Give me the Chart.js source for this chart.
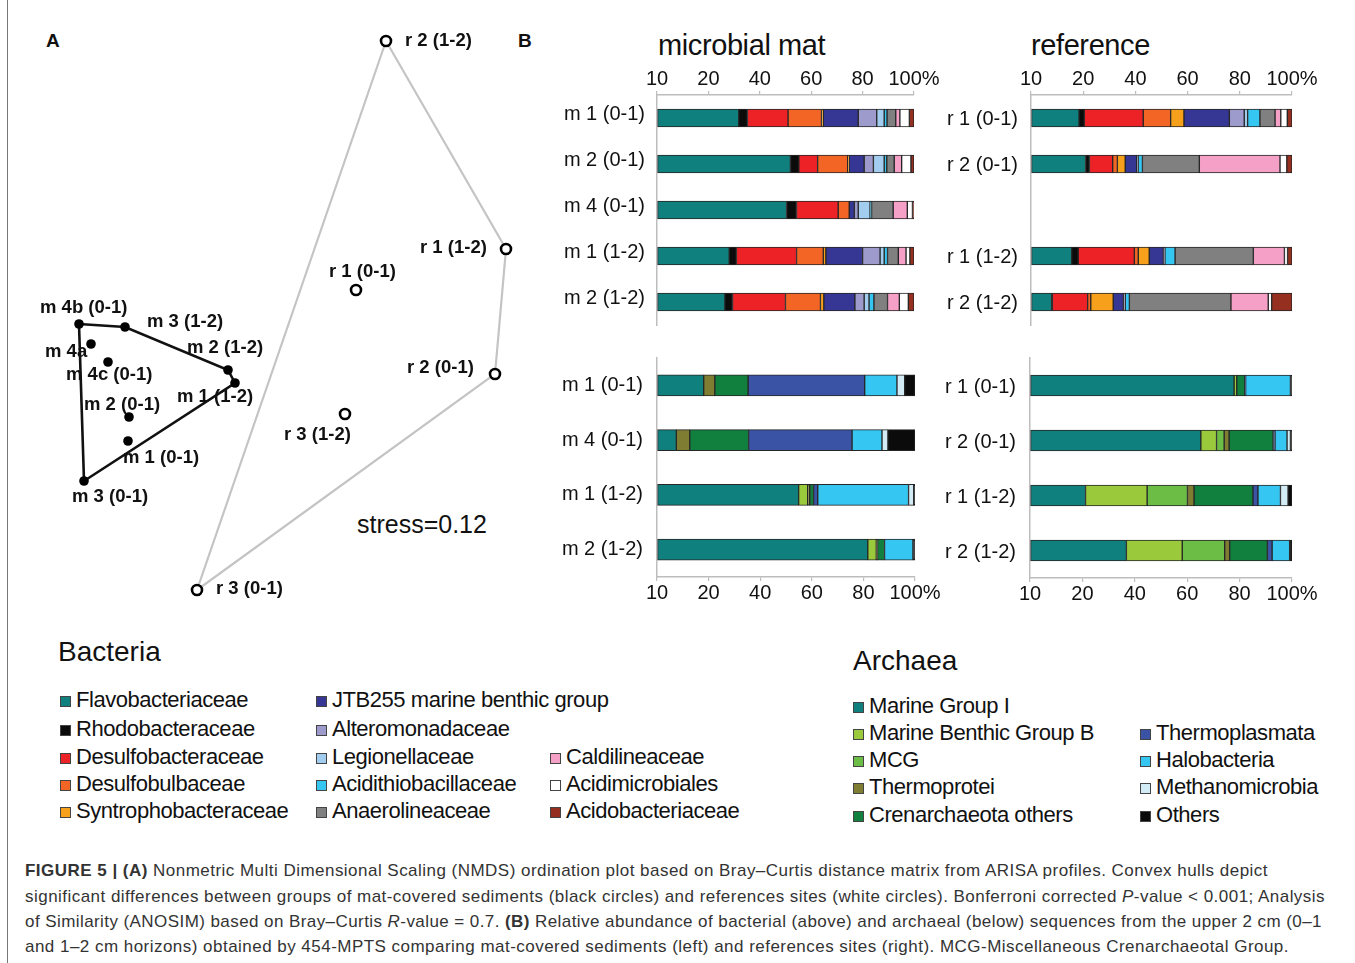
<!DOCTYPE html>
<html><head><meta charset="utf-8">
<script src="https://cdn.jsdelivr.net/npm/chart.js@4.4.1/dist/chart.umd.min.js"></script>
<style>
html,body{margin:0;padding:0;background:#fff;}
body{width:1355px;height:963px;position:relative;overflow:hidden;font-family:"Liberation Sans",Arial,sans-serif;color:#111;}
.abs{position:absolute;white-space:nowrap;line-height:1;}
canvas{position:absolute;}
.lg{position:absolute;white-space:nowrap;font-size:22px;letter-spacing:-0.45px;line-height:24px;height:24px;}
.lg i{display:inline-block;width:9px;height:9px;border:1px solid #444;margin-right:5px;vertical-align:0px;}
.cap{position:absolute;left:25px;white-space:nowrap;font-size:17px;color:#333;line-height:20px;}
</style></head>
<body>
<div class="abs" style="left:7px;top:0;width:1px;height:963px;background:#777"></div>
<div class="abs" style="left:46px;top:31px;font-size:19px;font-weight:bold">A</div>
<div class="abs" style="left:518px;top:31px;font-size:19px;font-weight:bold">B</div>
<div class="abs" style="left:357px;top:512px;font-size:25px">stress=0.12</div>
<div class="abs" style="left:658px;top:31px;font-size:29px;letter-spacing:-0.4px">microbial mat</div>
<div class="abs" style="left:1031px;top:31px;font-size:29px;letter-spacing:-0.4px">reference</div>
<div class="abs" style="left:58px;top:638px;font-size:28px">Bacteria</div>
<div class="abs" style="left:853px;top:647px;font-size:28px">Archaea</div>

<canvas id="nmds" width="500" height="600" style="left:30px;top:20px"></canvas>
<canvas id="bacMat" width="420" height="280" style="left:540px;top:55px"></canvas>
<canvas id="bacRef" width="401" height="280" style="left:931px;top:55px"></canvas>
<canvas id="arcMat" width="420" height="267" style="left:540px;top:350px"></canvas>
<canvas id="arcRef" width="401" height="268" style="left:931px;top:350px"></canvas>

<div id="legends"></div>

<div class="cap" id="c1" style="top:861px"><b>FIGURE 5 | (A)</b> Nonmetric Multi Dimensional Scaling (NMDS) ordination plot based on Bray–Curtis distance matrix from ARISA profiles. Convex hulls depict</div>
<div class="cap" id="c2" style="top:887px">significant differences between groups of mat-covered sediments (black circles) and references sites (white circles). Bonferroni corrected <i>P</i>-value &lt; 0.001; Analysis</div>
<div class="cap" id="c3" style="top:912px">of Similarity (ANOSIM) based on Bray–Curtis <i>R</i>-value = 0.7. <b>(B)</b> Relative abundance of bacterial (above) and archaeal (below) sequences from the upper 2 cm (0–1</div>
<div class="cap" id="c4" style="top:937px">and 1–2 cm horizons) obtained by 454-MPTS comparing mat-covered sediments (left) and references sites (right). MCG-Miscellaneous Crenarchaeotal Group.</div>

<script>
// ---------- DATA ----------
// NMDS ordination (panel A)
const nmdsMatLabels = ['m 4b (0-1)','m 3 (1-2)','m 4a','m 4c (0-1)','m 2 (1-2)','m 1 (1-2)','m 2 (0-1)','m 1 (0-1)','m 3 (0-1)'];
const nmdsMatX = [-1.055,-0.825,-0.995,-0.910,-0.310,-0.275,-0.805,-0.810,-1.030];
const nmdsMatY = [-0.120,-0.135,-0.220,-0.310,-0.350,-0.415,-0.585,-0.705,-0.905];
const nmdsRefLabels = ['r 2 (1-2)','r 1 (1-2)','r 1 (0-1)','r 2 (0-1)','r 3 (1-2)','r 3 (0-1)'];
const nmdsRefX = [0.480,1.080,0.330,1.025,0.275,-0.465];
const nmdsRefY = [1.295,0.255,0.050,-0.370,-0.570,-1.450];
const matHullOrder = [0,1,4,5,8,0];
const refHullOrder = [0,1,3,5,0];

// Relative abundance (panel B)
const tickLabels = ['10','20','40','60','80','100%'];
const bacteriaTaxa = ['Flavobacteriaceae','Rhodobacteraceae','Desulfobacteraceae','Desulfobulbaceae','Syntrophobacteraceae','JTB255 marine benthic group','Alteromonadaceae','Legionellaceae','Acidithiobacillaceae','Anaerolineaceae','Caldilineaceae','Acidimicrobiales','Acidobacteriaceae'];
const matBacteriaSamples = ['m 1 (0-1)','m 2 (0-1)','m 4 (0-1)','m 1 (1-2)','m 2 (1-2)'];
const matBacteriaValues = [
  [31.8,3.4,15.8,13.0,0.7,13.6,7.2,2.9,1.1,3.4,1.6,3.7,1.8],
  [51.9,3.3,7.3,11.7,0.5,5.9,3.6,4.2,1.0,2.9,2.9,3.6,1.2],
  [50.4,3.9,16.2,4.3,0,2.0,1.5,4.6,0.6,8.4,5.5,2.0,0.6],
  [28.1,2.8,23.4,10.4,1.0,14.3,6.8,1.6,1.3,4.2,3.0,1.5,1.6],
  [26.4,3.0,20.6,13.6,1.3,12.1,3.6,1.9,1.9,5.3,4.6,3.5,2.2]
];
const refBacteriaSamples = ['r 1 (0-1)','r 2 (0-1)','','r 1 (1-2)','r 2 (1-2)'];
const refBacteriaValues = [
  [18.4,2.0,22.6,10.5,5.1,17.4,5.7,1.3,4.7,5.8,2.2,2.5,1.8],
  [20.9,1.5,8.9,1.8,3.0,4.4,0.3,0.3,1.6,21.8,30.9,2.6,2.0],
  null,
  [15.6,2.5,21.5,1.5,4.2,5.4,0.6,0,3.9,30.0,11.9,1.2,1.7],
  [7.9,0.3,13.5,1.2,8.6,3.9,0.7,0,1.6,38.9,14.3,1.3,7.8]
];
const archaeaTaxa = ['Marine Group I','Marine Benthic Group B','MCG','Thermoprotei','Crenarchaeota others','Thermoplasmata','Halobacteria','Methanomicrobia','Others'];
const matArchaeaSamples = ['m 1 (0-1)','m 4 (0-1)','m 1 (1-2)','m 2 (1-2)'];
const matArchaeaValues = [
  [18.1,0,0,4.3,12.9,45.2,12.5,3.0,4.0],
  [7.5,0,0,5.2,22.8,40.1,11.6,2.3,10.5],
  [54.9,3.5,0,0.8,1.5,1.6,35.2,2.0,0.5],
  [81.7,3.3,0,0.5,2.7,0,11.0,0,0.8]
];
const refArchaeaSamples = ['r 1 (0-1)','r 2 (0-1)','r 1 (1-2)','r 2 (1-2)'];
const refArchaeaValues = [
  [77.9,1.0,0,0,3.1,0.3,17.1,0,0.6],
  [65.2,6.0,2.9,1.9,16.8,0.7,4.6,1.3,0.6],
  [21.2,23.5,15.4,2.5,22.5,1.9,8.6,2.9,1.5],
  [36.8,21.3,16.2,1.9,14.4,1.8,6.7,0,0.9]
];

// ---------- STYLES / LAYOUT ----------
const bacteriaColors = ['#0f807d','#0b0b0b','#ec2227','#f26524','#f7a01c','#363795','#9d9bcc','#a3cdee','#36c6f2','#808080','#f4a0c7','#ffffff','#952f1f'];
const archaeaColors = ['#0f807d','#9aca3c','#6cbd45','#7f7d32','#11803f','#3a53a4','#36c6f2','#d3ebf5','#0b0b0b'];
const matLabelOffsets = [[-39,-16],[22,-5],[-46,8],[-42,13],[-41,-22],[-58,14],[-45,-12],[-5,17],[-12,16]];
const refLabelOffsets = [[19,0],[-86,-1],[-27,-18],[-88,-6],[-61,21],[19,-1]];
const FONT = '"Liberation Sans", Arial, sans-serif';
Chart.defaults.font.family = FONT;
Chart.defaults.color = '#111';

// ---------- PANEL A ----------
const labelPlugin = {
  id:'pointLabels',
  afterDatasetsDraw(chart){
    const ctx = chart.ctx;
    ctx.save();
    ctx.font = 'bold 18.5px ' + FONT;
    ctx.fillStyle = '#111';
    ctx.textAlign = 'left';
    ctx.textBaseline = 'middle';
    chart.data.datasets.forEach((ds,i)=>{
      if(!ds.pointLabels) return;
      chart.getDatasetMeta(i).data.forEach((pt,j)=>{
        const o = ds.labelOffsets[j];
        ctx.fillText(ds.pointLabels[j], pt.x + o[0], pt.y + o[1]);
      });
    });
    ctx.restore();
  }
};
const toPts = (xs,ys)=>xs.map((x,i)=>({x:x,y:ys[i]}));
const matPts = toPts(nmdsMatX,nmdsMatY);
const refPts = toPts(nmdsRefX,nmdsRefY);
new Chart(document.getElementById('nmds'),{
  type:'scatter',
  data:{datasets:[
    {type:'line',data:refHullOrder.map(i=>refPts[i]),borderColor:'#c4c4c4',borderWidth:2.2,pointRadius:0,fill:false,tension:0,order:4},
    {type:'line',data:matHullOrder.map(i=>matPts[i]),borderColor:'#111',borderWidth:2.6,pointRadius:0,fill:false,tension:0,order:3},
    {data:refPts,pointRadius:5,pointBackgroundColor:'#fff',pointBorderColor:'#000',pointBorderWidth:2.6,order:2,
      pointLabels:nmdsRefLabels,labelOffsets:refLabelOffsets},
    {data:matPts,pointRadius:4.8,pointBackgroundColor:'#000',pointBorderColor:'#000',pointBorderWidth:0,order:1,
      pointLabels:nmdsMatLabels,labelOffsets:matLabelOffsets}
  ]},
  options:{
    responsive:false,animation:false,devicePixelRatio:1,
    layout:{padding:0,autoPadding:false},
    plugins:{legend:{display:false},tooltip:{enabled:false}},
    scales:{x:{type:'linear',min:-1.3,max:1.2,display:false},y:{type:'linear',min:-1.6,max:1.4,display:false}}
  },
  plugins:[labelPlugin]
});

// ---------- PANEL B ----------
function makeBar(id, samples, values, taxa, colors, o){
  const datasets = taxa.map((t,k)=>({
    label:t,
    data:values.map(r=> r ? r[k] : null),
    backgroundColor:colors[k],
    borderColor:'#262626',
    borderWidth:1,
    borderSkipped:false,
    barThickness:o.thick
  }));
  new Chart(document.getElementById(id),{
    type:'bar',
    data:{labels:samples,datasets},
    options:{
      indexAxis:'y',responsive:false,animation:false,devicePixelRatio:1,
      layout:{padding:o.pad},
      plugins:{legend:{display:false},tooltip:{enabled:false}},
      scales:{
        x:{type:'linear',stacked:true,min:0,max:100,position:o.xPos,
          ticks:{stepSize:20,autoSkip:false,maxRotation:0,padding:o.tickPad,font:{size:20},color:'#111',
            callback:(v,i)=>tickLabels[i]},
          grid:{display:true,drawOnChartArea:false,drawTicks:true,tickLength:4,color:'#bdbdbd',lineWidth:1.2},
          border:{display:true,color:'#bdbdbd',width:1.5},
          afterFit:s=>{s.height=o.xH;s.paddingLeft=0;s.paddingRight=0;}
        },
        y:{type:'category',stacked:true,
          ticks:{font:{size:20},color:'#111',padding:o.yPad,labelOffset:o.labOff},
          grid:{display:true,drawOnChartArea:false,drawTicks:false,color:'#bdbdbd'},
          border:{display:true,color:'#bdbdbd',width:1.5},
          afterFit:s=>{s.width=o.yW;s.paddingTop=0;s.paddingBottom=0;}
        }
      }
    }
  });
}
makeBar('bacMat',matBacteriaSamples,matBacteriaValues,bacteriaTaxa,bacteriaColors,
  {thick:18,pad:{top:0,left:0,right:46,bottom:10},xPos:'top',xH:40,tickPad:0,yW:117,yPad:12,labOff:-4});
makeBar('bacRef',refBacteriaSamples,refBacteriaValues,bacteriaTaxa,bacteriaColors,
  {thick:18,pad:{top:0,left:0,right:40,bottom:10},xPos:'top',xH:40,tickPad:0,yW:100,yPad:13,labOff:1});
makeBar('arcMat',matArchaeaSamples,matArchaeaValues,archaeaTaxa,archaeaColors,
  {thick:21,pad:{top:8,left:0,right:45,bottom:0},xPos:'bottom',xH:40,tickPad:0,yW:117,yPad:14,labOff:0});
makeBar('arcRef',refArchaeaSamples,refArchaeaValues,archaeaTaxa,archaeaColors,
  {thick:21,pad:{top:8,left:0,right:40,bottom:0},xPos:'bottom',xH:40,tickPad:0,yW:99,yPad:14,labOff:2});

// ---------- LEGENDS ----------
const bacLegendCols = [60,316,550];
const bacLegendRows = [700,729,757,784,811];
const bacLegendSlots = [[0,0],[0,1],[0,2],[0,3],[0,4],[1,0],[1,1],[1,2],[1,3],[1,4],[2,2],[2,3],[2,4]];
const arcLegendCols = [853,1140];
const arcLegendRows = [706,733,760,787,815];
const arcLegendSlots = [[0,0],[0,1],[0,2],[0,3],[0,4],[1,1],[1,2],[1,3],[1,4]];
const lg = document.getElementById('legends');
function addLegend(taxa,colors,cols,rows,slots){
  taxa.forEach((t,k)=>{
    const d = document.createElement('div');
    d.className='lg';
    d.style.left = cols[slots[k][0]]+'px';
    d.style.top = (rows[slots[k][1]]-12)+'px';
    d.innerHTML = '<i style="background:'+colors[k]+'"></i>'+t;
    lg.appendChild(d);
  });
}
addLegend(bacteriaTaxa,bacteriaColors,bacLegendCols,bacLegendRows,bacLegendSlots);
addLegend(archaeaTaxa,archaeaColors,arcLegendCols,arcLegendRows,arcLegendSlots);

// fit caption lines to the widths of the reference lines
const capRight = {c1:1268,c2:1325,c3:1322,c4:1289};
Object.keys(capRight).forEach(id=>{
  const el = document.getElementById(id);
  const w = el.getBoundingClientRect().width;
  const n = el.textContent.length;
  el.style.letterSpacing = ((capRight[id]-25-w)/n)+'px';
});
</script>
</body></html>
